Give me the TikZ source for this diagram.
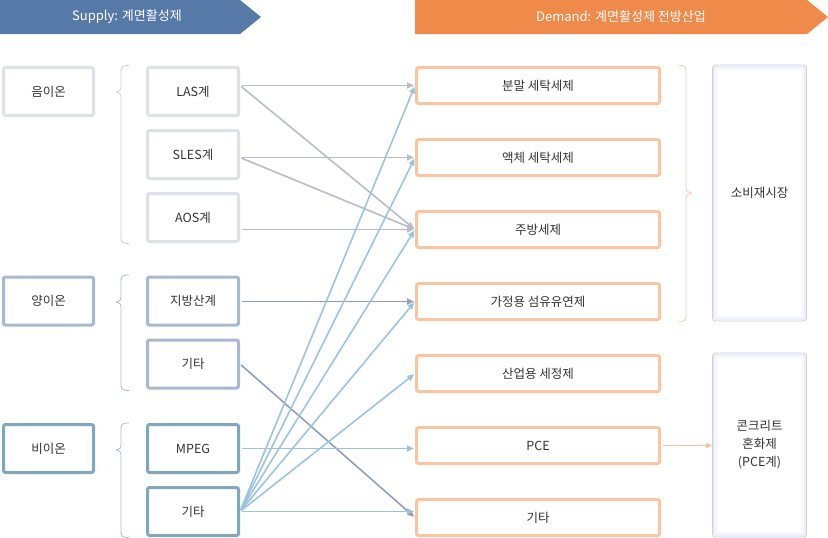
\documentclass[tikz,border=0pt]{standalone}
\usepackage{fontspec}
\setmainfont{Noto Sans CJK KR}
\usetikzlibrary{arrows.meta}
\definecolor{txt}{HTML}{333333}
\definecolor{bluebanner}{HTML}{5679A8}
\definecolor{orangebanner}{HTML}{F08A4B}
\definecolor{anionc}{HTML}{DDE1E8}
\definecolor{cationc}{HTML}{A9B8D1}
\definecolor{nonionc}{HTML}{7FA7C1}
\definecolor{orangebox}{HTML}{F9C6A2}
\definecolor{lgray}{HTML}{B9BDC4}
\definecolor{mblue}{HTML}{8F9FB9}
\definecolor{lblue}{HTML}{9DC4DD}
\definecolor{bracegray}{HTML}{C9CED8}
\definecolor{bracecat}{HTML}{A9B8D1}
\definecolor{bracenon}{HTML}{9FBFD3}
\definecolor{braceor}{HTML}{F6CBAE}
\definecolor{mktborder}{HTML}{C6CAD2}
\definecolor{glow1}{HTML}{F3F6FB}
\definecolor{glow2}{HTML}{E9EEF6}
\definecolor{pcearrow}{HTML}{F5C2A0}
\tikzset{
  lbox/.style={draw, line width=3pt, rounded corners=2pt, fill=white, minimum width=90pt, minimum height=48pt, inner sep=0pt, font=\fontsize{12.5}{14}\selectfont, text=txt},
  sbox/.style={lbox, minimum width=91pt},
  dbox/.style={draw=orangebox, line width=3pt, rounded corners=2pt, fill=white, minimum width=243pt, minimum height=36pt, inner sep=0pt, font=\fontsize{12.5}{14}\selectfont, text=txt},
  mkt/.style={draw=mktborder, line width=0.8pt, rounded corners=3pt, fill=white, minimum width=94pt, inner sep=0pt},
  mkttext/.style={font=\fontsize{12.5}{18}\selectfont, text=txt, align=center},
  conn/.style={line width=1.6pt, -{Triangle[length=7pt,width=6pt]}, shorten <=1.5pt, shorten >=1pt},
  bracel/.style={line width=0.8pt},
  banner/.style={font=\fontsize{13}{15}\selectfont, text=white},
}
\begin{document}
\begin{tikzpicture}[x=1pt,y=-1pt]
\useasboundingbox (0,0) rectangle (828,538);
% banners
\fill[bluebanner] (0,0) -- (240,0) -- (261,17) -- (240,34) -- (0,34) -- cycle;
\node[banner] (supply) at (127,17) {Supply: 계면활성제};
\fill[orangebanner] (415,0) -- (807,0) -- (828,17) -- (807,34) -- (415,34) -- cycle;
\node[banner] (demand) at (621,17) {Demand: 계면활성제 전방산업};
% group boxes
\node[lbox, draw=anionc] (anion) at (48.5,91.5) {음이온};
\node[lbox, draw=cationc] (cation) at (48.5,301) {양이온};
\node[lbox, draw=nonionc] (nonion) at (48.5,448.5) {비이온};
% sub boxes
\node[sbox, draw=anionc] (las) at (193,91.5) {LAS계};
\node[sbox, draw=anionc] (sles) at (193,154.5) {SLES계};
\node[sbox, draw=anionc] (aos) at (193,217.5) {AOS계};
\node[sbox, draw=cationc] (fatty) at (193,301) {지방산계};
\node[sbox, draw=cationc] (cetc) at (193,364) {기타};
\node[sbox, draw=nonionc] (mpeg) at (193,448.5) {MPEG};
\node[sbox, draw=nonionc] (netc) at (193,511.5) {기타};
% braces
\draw[bracel, draw=bracegray] (129,65.5) .. controls (122,65.5) and (121,67) .. (121,72) -- (121,87) .. controls (121,90) .. (116.5,92) .. controls (121,94) .. (121,97) -- (121,237) .. controls (121,242) and (122,243.5) .. (129,243.5);
\draw[bracel, draw=bracecat] (129,275) .. controls (122,275) and (121,276.5) .. (121,281) -- (121,297) .. controls (121,300) .. (116.5,302) .. controls (121,304) .. (121,307) -- (121,384) .. controls (121,389) and (122,390.5) .. (129,390.5);
\draw[bracel, draw=bracenon] (129,423) .. controls (122,423) and (121,424.5) .. (121,429) -- (121,445) .. controls (121,448) .. (116.5,450) .. controls (121,452) .. (121,455) -- (121,531) .. controls (121,536) and (122,537.5) .. (129,537.5);
% demand boxes
\node[dbox] (bunmal) at (538,85.5) {분말 세탁세제};
\node[dbox] (liquid) at (538,157.5) {액체 세탁세제};
\node[dbox] (kitchen) at (538,229.5) {주방세제};
\node[dbox] (softener) at (538,301.5) {가정용 섬유유연제};
\node[dbox] (industrial) at (538,373.5) {산업용 세정제};
\node[dbox] (pce) at (538,445.5) {PCE};
\node[dbox] (detc) at (538,517.5) {기타};
% right brace
\draw[bracel, draw=braceor] (679,65.5) .. controls (685,65.5) and (686,67) .. (686,72) -- (686,188) .. controls (686,191) .. (691.5,193) .. controls (686,195) .. (686,198) -- (686,315) .. controls (686,320) and (685,321.5) .. (679,321.5);
% market boxes
\node[mkt, minimum height=256pt] (market) at (759.5,193) {};
\node[mkt, minimum height=184pt] (concrete) at (759.5,445) {};
\foreach \b in {market,concrete}{
  \draw[glow1, line width=4pt, rounded corners=2pt] ([shift={(3,3)}]\b.north west) rectangle ([shift={(-3,-3)}]\b.south east);
  \draw[glow2, line width=1.5pt, rounded corners=2pt] ([shift={(1.6,1.6)}]\b.north west) rectangle ([shift={(-1.6,-1.6)}]\b.south east);
}
\node[mkttext] (markettext) at (market.center) {소비재시장};
\node[mkttext] (concretetext) at (concrete.center) {콘크리트\\혼화제\\(PCE계)};
% connectors: anion
\draw[conn, lgray] (las.east |- bunmal.west) -- (bunmal.west);
\draw[conn, lgray] (las.east |- bunmal.west) -- (kitchen.west);
\draw[conn, lgray] (sles.east |- liquid.west) -- (liquid.west);
\draw[conn, lgray] (sles.east |- liquid.west) -- (kitchen.west);
\draw[conn, lgray] (aos.east |- kitchen.west) -- (kitchen.west);
% cation
\draw[conn, mblue] (fatty.east |- softener.west) -- (softener.west);
\draw[conn, mblue] (cetc.east) -- (detc.west);
% nonion
\draw[conn, lblue] (mpeg.east) -- (mpeg.east -| pce.west);
\foreach \t in {bunmal,liquid,kitchen,softener,industrial}{
  \draw[conn, lblue] (netc.east) -- (\t.west);
}
\draw[conn, lblue] (netc.east) -- (netc.east -| detc.west);
% PCE to concrete
\draw[line width=1.6pt, pcearrow, -{Triangle[length=6pt,width=5pt]}, shorten <=1.5pt] (pce.east) -- (pce.east -| concrete.west);
\end{tikzpicture}
\end{document}
